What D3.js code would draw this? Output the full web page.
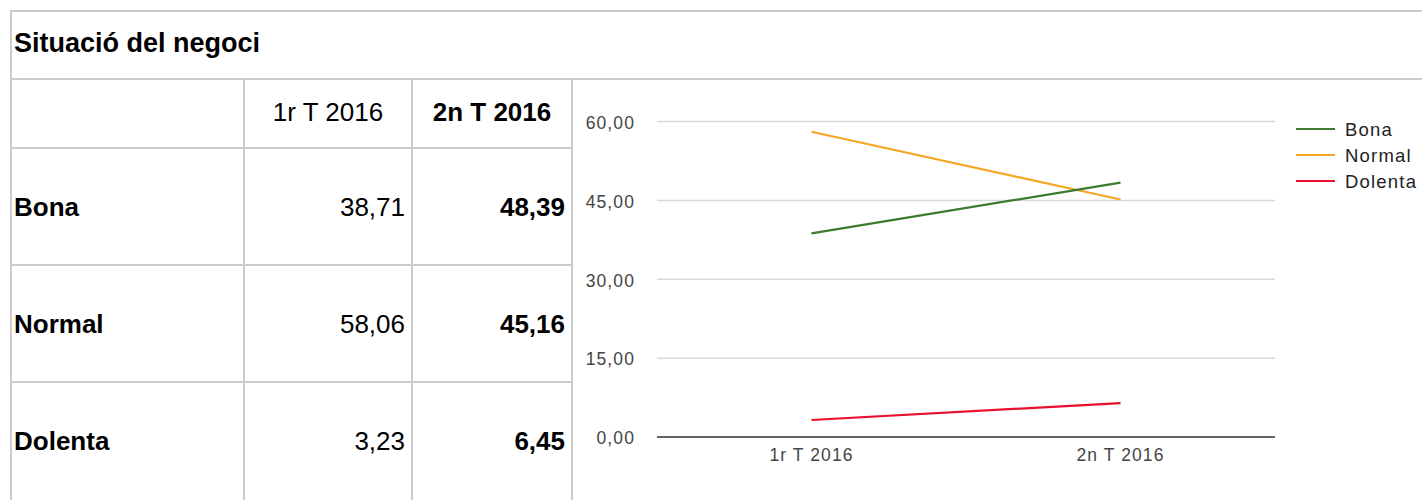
<!DOCTYPE html>
<html>
<head>
<meta charset="utf-8">
<title>Situació del negoci</title>
<style>
  body { margin: 0; background: #fff; }
  svg { display: block; font-family: "Liberation Sans", Arial, sans-serif; }
</style>
</head>
<body>
<script src="https://d3js.org/d3.v7.min.js"></script>
<script>

var title = "Situació del negoci";
var periods = ["1r T 2016", "2n T 2016"];
var rowNames = ["Bona", "Normal", "Dolenta"];
var bona = [38.71, 48.39];
var normal = [58.06, 45.16];
var dolenta = [3.23, 6.45];
var yTicks = [0, 15, 30, 45, 60];
var colors = ["#3d7a2e", "#f6a623", "#e8112d"];

var series = [bona, normal, dolenta];

var W = 1422, H = 500;
var fmt = d3.formatLocale({decimal: ",", thousands: ".", grouping: [3], currency: ["", "€"]}).format(".2f");

var svg = d3.select("body").append("svg")
    .attr("width", W)
    .attr("height", H);

// table grid
var border = "#cccccc";
var colEdges = [11, 244, 412, 572];
var rows = d3.scaleBand().domain(rowNames).range([148, 499]);

function hline(y, x1, x2) {
    svg.append("line").attr("x1", x1).attr("x2", x2).attr("y1", y).attr("y2", y)
        .attr("stroke", border).attr("stroke-width", 2);
}
function vline(x, y1, y2) {
    svg.append("line").attr("x1", x).attr("x2", x).attr("y1", y1).attr("y2", y2)
        .attr("stroke", border).attr("stroke-width", 2);
}

hline(11, 10, W);
hline(79, 10, W);
rowNames.forEach(function(r) { hline(rows(r), 10, 573); });
vline(11, 10, H);
colEdges.slice(1).forEach(function(x) { vline(x, 79, H); });

svg.append("text")
    .attr("x", 14).attr("y", 52)
    .attr("font-size", 27).attr("font-weight", "bold")
    .attr("fill", "#000")
    .text(title);

// header
periods.forEach(function(p, i) {
    svg.append("text")
        .attr("x", (colEdges[i + 1] + colEdges[i + 2]) / 2)
        .attr("y", 121)
        .attr("text-anchor", "middle")
        .attr("font-size", 26)
        .attr("font-weight", i == 1 ? "bold" : "normal")
        .attr("fill", "#000")
        .text(p);
});

// body rows
rowNames.forEach(function(r, j) {
    var cy = rows(r) + rows.bandwidth() / 2;
    svg.append("text")
        .attr("x", 14).attr("y", cy).attr("dy", "0.36em")
        .attr("font-size", 26).attr("font-weight", "bold")
        .text(r);
    series[j].forEach(function(v, i) {
        svg.append("text")
            .attr("x", colEdges[i + 2] - 7).attr("y", cy).attr("dy", "0.36em")
            .attr("text-anchor", "end")
            .attr("font-size", 26)
            .attr("font-weight", i == 1 ? "bold" : "normal")
            .text(fmt(v));
    });
});

// chart
var x = d3.scalePoint().domain(periods).range([657, 1275]).padding(0.5);
var y = d3.scaleLinear().domain([0, 60]).range([437, 121.5]);

var chart = svg.append("g");

chart.selectAll(".grid")
    .data(yTicks.filter(function(t) { return t > 0; }))
    .enter().append("line")
    .attr("x1", 657).attr("x2", 1275)
    .attr("y1", function(d) { return y(d); })
    .attr("y2", function(d) { return y(d); })
    .attr("stroke", "#d9d9d9").attr("stroke-width", 1.5);

chart.append("line")
    .attr("x1", 657).attr("x2", 1275)
    .attr("y1", y(0)).attr("y2", y(0))
    .attr("stroke", "#333").attr("stroke-width", 1.5);

chart.selectAll(".ylab")
    .data(yTicks)
    .enter().append("text")
    .attr("x", 635)
    .attr("y", function(d) { return y(d); })
    .attr("dy", "0.42em")
    .attr("text-anchor", "end")
    .attr("font-size", 17.5)
    .attr("letter-spacing", 1.1)
    .attr("fill", "#444")
    .text(function(d) { return fmt(d); });

chart.selectAll(".xlab")
    .data(periods)
    .enter().append("text")
    .attr("x", function(d) { return x(d); })
    .attr("y", 461)
    .attr("text-anchor", "middle")
    .attr("font-size", 17.5)
    .attr("letter-spacing", 1.1)
    .attr("fill", "#444")
    .text(function(d) { return d; });

var line = d3.line()
    .x(function(d, i) { return x(periods[i]); })
    .y(function(d) { return y(d); });

// draw in reverse so green sits over orange like the original
[2, 1, 0].forEach(function(j) {
    chart.append("path")
        .datum(series[j])
        .attr("d", line)
        .attr("fill", "none")
        .attr("stroke", colors[j])
        .attr("stroke-width", 2.2);
});

// legend
var legend = svg.append("g");
rowNames.forEach(function(r, j) {
    var ly = 129 + j * 26;
    legend.append("line")
        .attr("x1", 1296).attr("x2", 1335)
        .attr("y1", ly).attr("y2", ly)
        .attr("stroke", colors[j]).attr("stroke-width", 2.2);
    legend.append("text")
        .attr("x", 1345).attr("y", ly).attr("dy", "0.36em")
        .attr("font-size", 18.5)
        .attr("letter-spacing", 1.2)
        .attr("fill", "#222")
        .text(r);
});

</script>
</body>
</html>
